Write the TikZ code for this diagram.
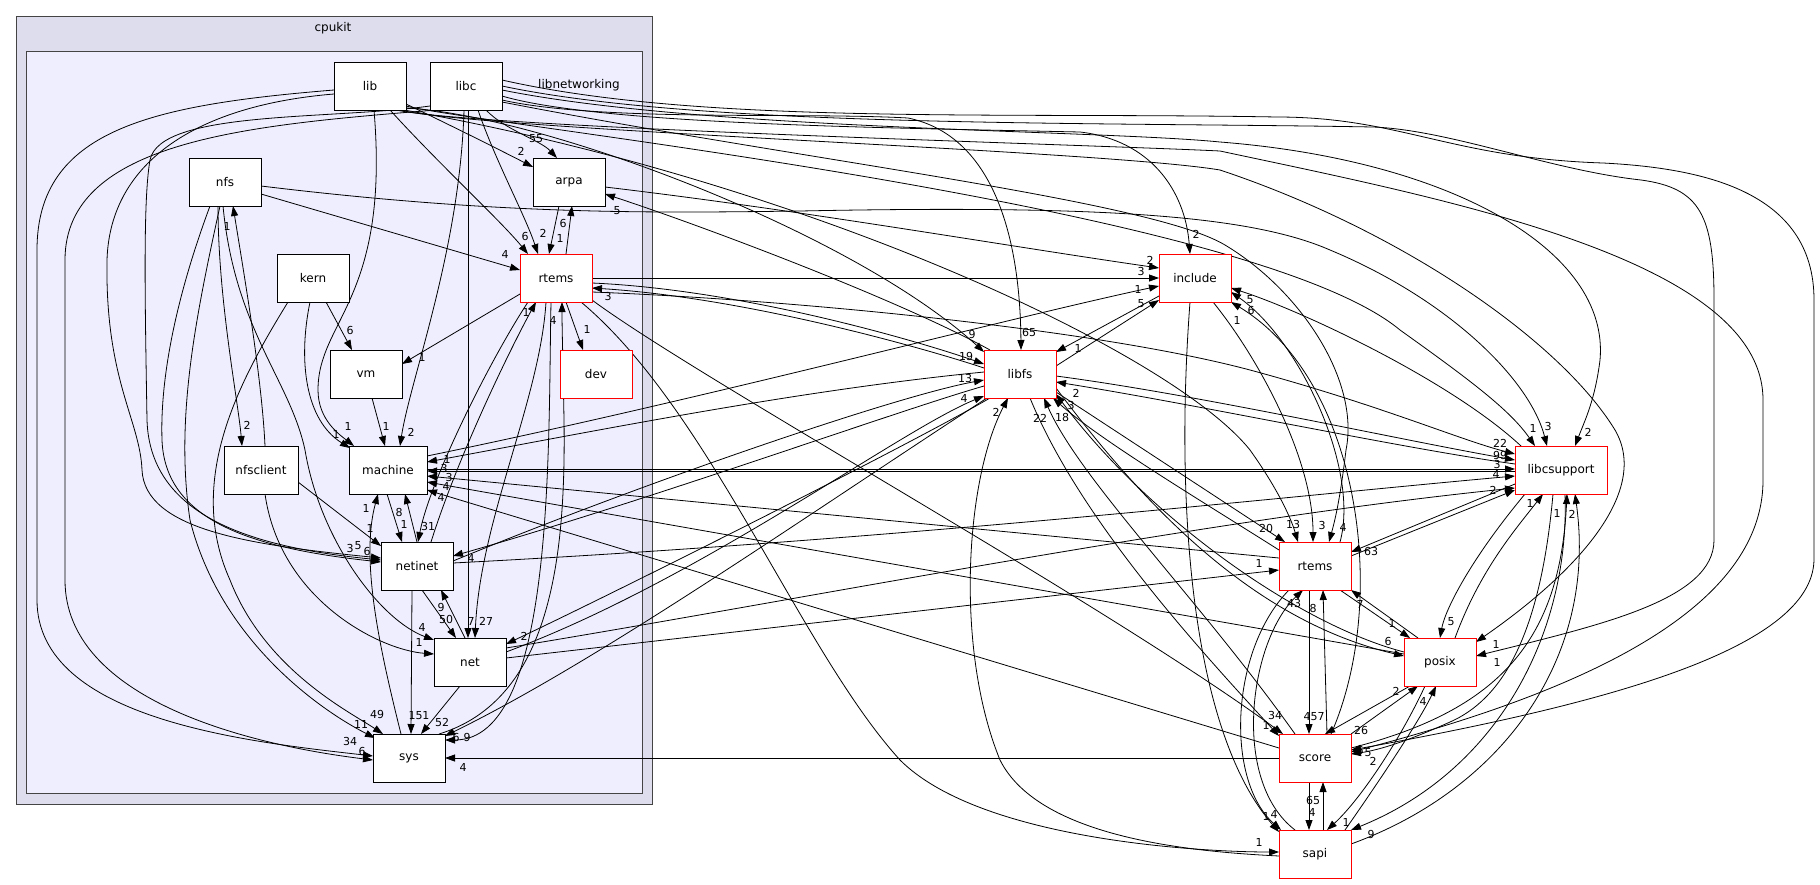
\documentclass[tikz,border=0pt]{standalone}
\usepackage{fontspec}
\setmainfont{DejaVu Sans}
\usetikzlibrary{arrows.meta}
\pgfdeclarelayer{clu}
\pgfdeclarelayer{edg}
\pgfsetlayers{clu,edg,main}
\definecolor{cpk}{HTML}{DDDDEE}
\definecolor{lnw}{HTML}{EEEEFF}
\definecolor{bord}{HTML}{444444}
\begin{document}
\begin{tikzpicture}[x=1pt,y=-1pt,
 box/.style={draw=black,fill=white,minimum width=72pt,minimum height=48pt,inner sep=0pt,line width=0.9pt,font=\fontsize{12}{14}\selectfont},
 rbox/.style={box,draw=red},
 e/.style={-{Triangle[length=10pt,width=7pt]},line width=0.8pt},
 lab/.style={inner sep=0pt,font=\fontsize{11}{12}\selectfont},
 ctitle/.style={inner sep=0pt,font=\fontsize{12}{14}\selectfont}]
\useasboundingbox (0,0) rectangle (1820,884);
\begin{pgfonlayer}{clu}
\draw[draw=bord,fill=cpk,line width=0.9pt] (16,16) rectangle (652,804);
\draw[draw=bord,fill=lnw,line width=0.9pt] (26.5,51.7) rectangle (642.7,793);
\end{pgfonlayer}
\node[ctitle] (tcpukit) at (333,28) {cpukit};
\node[ctitle] (tlnw) at (579,85) {libnetworking};
% inner nodes
\node[box] (lib) at (370,86) {lib};
\node[box] (libc) at (466,86) {libc};
\node[box] (nfs) at (225,182) {nfs};
\node[box] (arpa) at (569,182) {arpa};
\node[box] (kern) at (313,278) {kern};
\node[rbox] (rtA) at (556,278) {rtems};
\node[box] (vm) at (366,374) {vm};
\node[rbox] (dev) at (596,374) {dev};
\node[box,minimum width=74pt] (nfsclient) at (261,470) {nfsclient};
\node[box,minimum width=78pt] (machine) at (388,470) {machine};
\node[box] (netinet) at (417,566) {netinet};
\node[box] (net) at (470,662) {net};
\node[box] (sys) at (409,758) {sys};
% outer nodes
\node[rbox] (include) at (1195,278) {include};
\node[rbox] (libfs) at (1020,374) {libfs};
\node[rbox,minimum width=92pt] (libcsupport) at (1561,470) {libcsupport};
\node[rbox] (rtB) at (1315,566) {rtems};
\node[rbox] (posix) at (1440,662) {posix};
\node[rbox] (score) at (1315,758) {score};
\node[rbox] (sapi) at (1315,854) {sapi};

\begin{pgfonlayer}{edg}
\draw[e] ([shift={(36,18)}]lib.center) .. controls (450,125) and (500,150) .. ([shift={(-36,-15)}]arpa.center) node[lab] (q1) at (521,151) {2};
\draw[e] ([shift={(20,24)}]libc.center) .. controls (505,130) and (540,140) .. ([shift={(-12,-24)}]arpa.center) node[lab] (q2) at (536,139) {55};
\draw[e] ([shift={(10,-24)}]rtA.center) -- ([shift={(3,24)}]arpa.center) node[lab] (q3) at (563,223) {6};
\draw[e] ([shift={(-10,24)}]arpa.center) -- ([shift={(-7,-24)}]rtA.center) node[lab] (q4) at (560,238) {1};
\draw[e] ([shift={(20,24)}]lib.center) .. controls (440,165) and (500,220) .. ([shift={(-28,-24)}]rtA.center) node[lab] (q5) at (525,236) {6};
\draw[e] ([shift={(12,24)}]libc.center) .. controls (495,160) and (525,215) .. ([shift={(-18,-24)}]rtA.center) node[lab] (q6) at (543,233) {2};
\draw[e] ([shift={(36,12)}]nfs.center) -- ([shift={(-36,-8)}]rtA.center) node[lab] (q7) at (505,254) {4};
\draw[e] ([shift={(-30,-24)}]libfs.center) .. controls (900,300) and (700,225) .. ([shift={(36,12)}]arpa.center) node[lab] (q8) at (617,211) {5};
\draw[e] ([shift={(36,5)}]arpa.center) .. controls (800,210) and (1000,245) .. ([shift={(-36,-10)}]include.center) node[lab] (q9) at (1150,260) {2};
\draw[e] ([shift={(36,4)}]nfs.center) .. controls (500,215) and (650,213) .. (800,211) .. controls (1100,205) and (1250,215) .. (1330,250) .. controls (1450,300) and (1530,380) .. ([shift={(-14,-24)}]libcsupport.center) node[lab] (q10) at (1548,426) {3};
\draw[e] ([shift={(36,0)}]rtA.center) -- ([shift={(-36,0)}]include.center) node[lab] (q11) at (1141,271) {3};
\draw[e] ([shift={(36,5)}]rtA.center) .. controls (750,290) and (930,345) .. ([shift={(-36,-10)}]libfs.center) node[lab] (q12) at (966,356) {19};
\draw[e] ([shift={(-36,-6)}]libfs.center) .. controls (930,350) and (750,298) .. ([shift={(36,10)}]rtA.center) node[lab] (q13) at (608,296) {3};
\draw[e] ([shift={(36,14)}]rtA.center) .. controls (800,300) and (1100,330) .. (1250,370) .. controls (1380,405) and (1460,440) .. ([shift={(-46,-16)}]libcsupport.center) node[lab] (q14) at (1500,443) {22};
\draw[e] ([shift={(34,24)}]lib.center) .. controls (800,180) and (1170,350) .. (1250,450) .. controls (1275,485) and (1290,515) .. ([shift={(-17,-24)}]rtB.center) node[lab] (q15) at (1293,524) {13};
\draw[e] ([shift={(36,22)}]rtA.center) .. controls (700,380) and (1100,600) .. ([shift={(-32,-24)}]score.center) node[lab] (q16) at (1275,715) {34};
\draw[e] ([shift={(25,24)}]rtA.center) .. controls (710,410) and (800,650) .. (900,760) .. controls (980,840) and (1200,852) .. ([shift={(-36,-2)}]sapi.center) node[lab] (q17) at (1259,842) {1};
\draw[e] ([shift={(-36,16)}]rtA.center) -- ([shift={(36,-10)}]vm.center) node[lab] (q18) at (422,357) {1};
\draw[e] ([shift={(13,24)}]kern.center) -- ([shift={(-14,-24)}]vm.center) node[lab] (q19) at (350,330) {6};
\draw[e] ([shift={(10,24)}]rtA.center) -- ([shift={(-13,-24)}]dev.center) node[lab] (q20) at (587,329) {1};
\draw[e] ([shift={(-7,24)}]nfs.center) .. controls (218,300) and (238,400) .. ([shift={(-19,-24)}]nfsclient.center) node[lab] (q21) at (247,425) {2};
\draw[e] ([shift={(4,-24)}]nfsclient.center) .. controls (262,380) and (245,280) .. ([shift={(8,24)}]nfs.center) node[lab] (q22) at (227,226) {1};
\draw[e] ([shift={(-3,24)}]kern.center) .. controls (298,360) and (305,420) .. ([shift={(-38,-22)}]machine.center) node[lab] (q23) at (336,434) {1};
\draw[e] ([shift={(4,24)}]lib.center) .. controls (390,300) and (318,320) .. (318,390) .. controls (318,420) and (340,435) .. ([shift={(-34,-24)}]machine.center) node[lab] (q24) at (348,426) {1};
\draw[e] ([shift={(6,24)}]vm.center) -- ([shift={(-3,-24)}]machine.center) node[lab] (q25) at (386,426) {1};
\draw[e] ([shift={(-2,24)}]libc.center) .. controls (460,250) and (410,380) .. ([shift={(12,-24)}]machine.center) node[lab] (q26) at (411,432) {2};
\draw[e] ([shift={(-1,24)}]machine.center) -- ([shift={(-15,-24)}]netinet.center) node[lab] (q27) at (404,524) {1};
\draw[e] ([shift={(0,-24)}]netinet.center) -- ([shift={(17,24)}]machine.center) node[lab] (q28) at (399,512) {8};
\draw[e] ([shift={(-28,24)}]rtA.center) .. controls (490,360) and (430,480) .. ([shift={(1,-24)}]netinet.center) node[lab] (q29) at (428,526) {31};
\draw[e] ([shift={(14,-24)}]netinet.center) .. controls (460,450) and (515,340) .. ([shift={(-20,24)}]rtA.center) node[lab] (q30) at (526,312) {1};
\draw[e] ([shift={(-8,-24)}]sys.center) .. controls (380,650) and (360,560) .. ([shift={(-10,24)}]machine.center) node[lab] (q31) at (366,508) {1};
\draw[e] ([shift={(37,12)}]nfsclient.center) -- ([shift={(-36,-20)}]netinet.center) node[lab] (q32) at (370,528) {1};
\draw[e] ([shift={(-36,8)}]lib.center) .. controls (200,105) and (110,160) .. (107,260) .. controls (105,380) and (140,420) .. (142,470) .. controls (145,530) and (250,545) .. ([shift={(-36,-8)}]netinet.center) node[lab] (q33) at (350,548) {3};
\draw[e] ([shift={(-36,20)}]libc.center) .. controls (330,120) and (160,110) .. (150,160) .. controls (143,200) and (145,300) .. (147,420) .. controls (150,520) and (260,548) .. ([shift={(-36,-6)}]netinet.center) node[lab] (q34) at (358,546) {5};
\draw[e] ([shift={(-15,24)}]nfs.center) .. controls (175,300) and (160,380) .. (162,440) .. controls (165,520) and (250,548) .. ([shift={(-36,-4)}]netinet.center) node[lab] (q35) at (367,551) {6};
\draw[e] ([shift={(-36,4)}]lib.center) .. controls (150,105) and (37,130) .. (37,250) -- (37,600) .. controls (37,720) and (250,742) .. ([shift={(-36,-2)}]sys.center) node[lab] (q36) at (350,741) {34};
\draw[e] ([shift={(-30,24)}]libc.center) .. controls (250,125) and (65,140) .. (65,260) -- (65,580) .. controls (65,700) and (250,745) .. ([shift={(-36,2)}]sys.center) node[lab] (q37) at (362,751) {6};
\draw[e] ([shift={(-5,24)}]nfs.center) .. controls (195,320) and (175,420) .. (190,520) .. controls (220,640) and (320,710) .. ([shift={(-34,-20)}]sys.center) node[lab] (q38) at (361,724) {11};
\draw[e] ([shift={(-25,24)}]kern.center) .. controls (240,380) and (185,480) .. (230,580) .. controls (265,670) and (350,712) .. ([shift={(-26,-24)}]sys.center) node[lab] (q39) at (377,714) {49};
\draw[e] ([shift={(-2,24)}]nfs.center) .. controls (235,330) and (290,380) .. (305,450) .. controls (320,540) and (380,620) .. ([shift={(-36,-22)}]net.center) node[lab] (q40) at (422,627) {4};
\draw[e] ([shift={(4,24)}]nfsclient.center) .. controls (280,600) and (380,650) .. ([shift={(-36,-8)}]net.center) node[lab] (q41) at (419,642) {1};
\draw[e] ([shift={(5,24)}]netinet.center) -- ([shift={(-14,-24)}]net.center) node[lab] (q42) at (446,619) {50};
\draw[e] ([shift={(-5,-24)}]net.center) -- ([shift={(24,24)}]netinet.center) node[lab] (q43) at (441,607) {9};
\draw[e] ([shift={(2,24)}]libc.center) -- ([shift={(-2,-24)}]net.center) node[lab] (q44) at (471,621) {7};
\draw[e] ([shift={(-10,24)}]rtA.center) .. controls (540,400) and (480,520) .. ([shift={(5,-24)}]net.center) node[lab] (q45) at (486,621) {27};
\draw[e] ([shift={(-30,24)}]libfs.center) .. controls (900,450) and (600,600) .. ([shift={(36,-18)}]net.center) node[lab] (q46) at (524,636) {2};
\draw[e] ([shift={(36,-10)}]net.center) .. controls (700,580) and (900,430) .. ([shift={(-36,22)}]libfs.center) node[lab] (q47) at (964,398) {4};
\draw[e] ([shift={(36,-5)}]netinet.center) .. controls (650,480) and (900,395) .. ([shift={(-36,6)}]libfs.center) node[lab] (q48) at (965,378) {13};
\draw[e] ([shift={(-36,12)}]libfs.center) .. controls (900,410) and (650,500) .. ([shift={(36,-10)}]netinet.center) node[lab] (q49) at (471,558) {4};
\draw[e] ([shift={(-10,24)}]net.center) -- ([shift={(12,-24)}]sys.center) node[lab] (q50) at (442,722) {52};
\draw[e] ([shift={(-5,24)}]netinet.center) -- ([shift={(2,-24)}]sys.center) node[lab] (q51) at (419,716) {151};
\draw[e] ([shift={(-5,24)}]rtA.center) .. controls (548,450) and (555,740) .. ([shift={(36,-18)}]sys.center) node[lab] (q52) at (456,737) {6};
\draw[e] ([shift={(-33,24)}]libfs.center) .. controls (800,520) and (600,660) .. ([shift={(36,-22)}]sys.center) node[lab] (q53) at (467,737) {9};
\draw[e] ([shift={(30,-24)}]sys.center) .. controls (550,700) and (566,560) .. (564,420) .. controls (563,360) and (562,330) .. ([shift={(6,24)}]rtA.center) node[lab] (q54) at (553,320) {4};
\draw[e] ([shift={(-36,0)}]score.center) -- ([shift={(36,0)}]sys.center) node[lab] (q55) at (463,767) {4};
\draw[e] ([shift={(-36,-2)}]libfs.center) .. controls (800,390) and (600,430) .. ([shift={(39,-8)}]machine.center) node[lab] (q56) at (447,459) {1};
\draw[e] ([shift={(39,-14)}]machine.center) .. controls (700,400) and (1000,320) .. ([shift={(-36,8)}]include.center) node[lab] (q57) at (1138,289) {1};
\draw[e] ([shift={(39,-1)}]machine.center) -- ([shift={(-46,-1)}]libcsupport.center) node[lab] (q58) at (1497,464) {3};
\draw[e] ([shift={(-46,1)}]libcsupport.center) -- ([shift={(39,1)}]machine.center) node[lab] (q59) at (444,468) {3};
\draw[e] ([shift={(-36,-8)}]rtB.center) -- ([shift={(39,6)}]machine.center) node[lab] (q60) at (449,477) {3};
\draw[e] ([shift={(-36,-8)}]posix.center) -- ([shift={(39,12)}]machine.center) node[lab] (q61) at (446,486) {4};
\draw[e] ([shift={(-36,-10)}]score.center) -- ([shift={(39,20)}]machine.center) node[lab] (q62) at (441,497) {4};
\draw[e] ([shift={(36,-3)}]netinet.center) .. controls (900,540) and (1300,495) .. ([shift={(-46,6)}]libcsupport.center) node[lab] (q63) at (1496,474) {4};
\draw[e] ([shift={(36,-14)}]net.center) .. controls (800,600) and (1200,520) .. ([shift={(-46,18)}]libcsupport.center);
\draw[e] ([shift={(36,-4)}]net.center) -- ([shift={(-36,4)}]rtB.center) node[lab] (q65) at (1259,563) {1};
\draw[e] ([shift={(36,18)}]libfs.center) -- ([shift={(-30,-24)}]rtB.center) node[lab] (q66) at (1266,528) {20};
\draw[e] ([shift={(18,24)}]include.center) .. controls (1260,360) and (1313,460) .. ([shift={(-2,-24)}]rtB.center) node[lab] (q67) at (1322,525) {3};
\draw[e] ([shift={(25,-24)}]rtB.center) .. controls (1360,470) and (1300,340) .. ([shift={(36,14)}]include.center) node[lab] (q68) at (1250,300) {5};
\draw[e] ([shift={(-40,-24)}]libcsupport.center) .. controls (1450,380) and (1300,310) .. ([shift={(36,10)}]include.center) node[lab] (q69) at (1251,310) {6};
\draw[e] ([shift={(16,-24)}]score.center) .. controls (1390,600) and (1360,380) .. ([shift={(36,24)}]include.center) node[lab] (q70) at (1237,320) {1};
\draw[e] ([shift={(-36,18)}]include.center) -- ([shift={(36,-22)}]libfs.center) node[lab] (q71) at (1078,348) {1};
\draw[e] ([shift={(36,-8)}]libfs.center) -- ([shift={(-36,22)}]include.center) node[lab] (q72) at (1141,304) {5};
\draw[e] ([shift={(36,10)}]libc.center) .. controls (600,125) and (900,128) .. (1080,132) .. controls (1150,140) and (1185,190) .. ([shift={(-5,-24)}]include.center) node[lab] (q73) at (1196,234) {2};
\draw[e] ([shift={(36,14)}]libc.center) .. controls (600,122) and (800,112) .. (908,118) .. controls (990,135) and (1020,230) .. ([shift={(1,-24)}]libfs.center) node[lab] (q74) at (1029,332) {65};
\draw[e] ([shift={(36,22)}]lib.center) .. controls (540,115) and (850,230) .. ([shift={(-36,-22)}]libfs.center) node[lab] (q75) at (972,334) {9};
\draw[e] ([shift={(36,2)}]libfs.center) .. controls (1200,395) and (1400,440) .. ([shift={(-46,-10)}]libcsupport.center) node[lab] (q76) at (1500,455) {99};
\draw[e] ([shift={(-46,-6)}]libcsupport.center) .. controls (1400,448) and (1200,405) .. ([shift={(36,8)}]libfs.center) node[lab] (q77) at (1076,393) {2};
\draw[e] ([shift={(-36,-16)}]rtB.center) .. controls (1200,500) and (1100,440) .. ([shift={(33,24)}]libfs.center) node[lab] (q78) at (1062,417) {18};
\draw[e] ([shift={(-36,-10)}]posix.center) .. controls (1300,625) and (1150,520) .. ([shift={(36,20)}]libfs.center) node[lab] (q79) at (1071,405) {3};
\draw[e] ([shift={(-20,-24)}]score.center) .. controls (1200,600) and (1080,480) .. ([shift={(24,24)}]libfs.center) node[lab] (q80) at (1040,418) {22};
\draw[e] ([shift={(10,24)}]libfs.center) .. controls (1080,520) and (1200,650) .. ([shift={(-36,-22)}]score.center) node[lab] (q81) at (1266,725) {1};
\draw[e] ([shift={(-36,2)}]sapi.center) .. controls (1200,852) and (1040,840) .. (1000,760) .. controls (955,650) and (965,480) .. ([shift={(-12,24)}]libfs.center) node[lab] (q82) at (996,412) {2};
\draw[e] ([shift={(36,14)}]libfs.center) .. controls (1140,500) and (1250,620) .. ([shift={(-36,-6)}]posix.center) node[lab] (q83) at (1388,641) {6};
\draw[e] ([shift={(25,24)}]rtB.center) -- ([shift={(-30,-24)}]posix.center) node[lab] (q84) at (1392,623) {1};
\draw[e] ([shift={(-22,-24)}]posix.center) -- ([shift={(36,24)}]rtB.center) node[lab] (q85) at (1360,604) {7};
\draw[e] ([shift={(-46,14)}]libcsupport.center) -- ([shift={(36,-14)}]rtB.center) node[lab] (q86) at (1371,551) {63};
\draw[e] ([shift={(36,-10)}]rtB.center) -- ([shift={(-46,20)}]libcsupport.center) node[lab] (q87) at (1493,490) {2};
\draw[e] ([shift={(-6,24)}]rtB.center) -- ([shift={(-6,-24)}]score.center) node[lab] (q88) at (1314,717) {457};
\draw[e] ([shift={(12,-24)}]score.center) -- ([shift={(8,24)}]rtB.center) node[lab] (q89) at (1313,608) {8};
\draw[e] ([shift={(-20,-24)}]sapi.center) .. controls (1230,780) and (1250,640) .. ([shift={(-12,24)}]rtB.center) node[lab] (q90) at (1294,603) {43};
\draw[e] ([shift={(-26,24)}]rtB.center) .. controls (1230,650) and (1225,780) .. ([shift={(-34,-24)}]sapi.center) node[lab] (q91) at (1266,816) {1};
\draw[e] ([shift={(-5,24)}]include.center) .. controls (1175,500) and (1190,730) .. ([shift={(-36,-22)}]sapi.center) node[lab] (q92) at (1274,814) {4};
\draw[e] ([shift={(-6,24)}]score.center) -- ([shift={(-6,-24)}]sapi.center) node[lab] (q93) at (1312,812) {4};
\draw[e] ([shift={(8,-24)}]sapi.center) -- ([shift={(8,24)}]score.center) node[lab] (q94) at (1313,800) {65};
\draw[e] ([shift={(-30,24)}]posix.center) -- ([shift={(10,-24)}]score.center) node[lab] (q95) at (1361,730) {26};
\draw[e] ([shift={(36,-24)}]score.center) -- ([shift={(-22,24)}]posix.center) node[lab] (q96) at (1396,691) {2};
\draw[e] ([shift={(-15,24)}]posix.center) .. controls (1400,740) and (1360,800) .. ([shift={(12,-24)}]sapi.center) node[lab] (q97) at (1346,822) {1};
\draw[e] ([shift={(30,-24)}]sapi.center) .. controls (1380,780) and (1420,720) .. ([shift={(-4,24)}]posix.center) node[lab] (q98) at (1423,701) {4};
\draw[e] ([shift={(-36,24)}]libcsupport.center) .. controls (1470,560) and (1445,610) .. ([shift={(0,-24)}]posix.center) node[lab] (q99) at (1451,622) {5};
\draw[e] ([shift={(15,-24)}]posix.center) .. controls (1480,570) and (1515,530) .. ([shift={(-18,24)}]libcsupport.center) node[lab] (q100) at (1530,503) {1};
\draw[e] ([shift={(-8,24)}]libcsupport.center) .. controls (1540,640) and (1500,700) .. (1450,722) .. controls (1410,740) and (1380,750) .. ([shift={(36,-4)}]score.center) node[lab] (q101) at (1373,761) {2};
\draw[e] ([shift={(36,-10)}]score.center) .. controls (1500,710) and (1560,640) .. ([shift={(6,24)}]libcsupport.center) node[lab] (q102) at (1557,513) {1};
\draw[e] ([shift={(36,-10)}]sapi.center) .. controls (1500,790) and (1598,660) .. ([shift={(14,24)}]libcsupport.center) node[lab] (q103) at (1572,514) {2};
\draw[e] ([shift={(4,24)}]libcsupport.center) .. controls (1570,630) and (1500,770) .. ([shift={(36,-24)}]sapi.center) node[lab] (q104) at (1371,834) {9};
\draw[e] ([shift={(36,-6)}]libc.center) .. controls (700,125) and (1000,112) .. (1277,117) .. controls (1400,117) and (1450,158) .. (1603,163) .. controls (1700,168) and (1814,190) .. (1814,300) -- (1814,560) .. controls (1812,650) and (1600,705) .. ([shift={(36,-8)}]score.center) node[lab] (q105) at (1360,750) {6};
\draw[e] ([shift={(36,0)}]libc.center) .. controls (700,128) and (1100,122) .. (1373,127) .. controls (1450,130) and (1550,170) .. (1641,180) .. controls (1700,188) and (1714,215) .. (1714,300) -- (1714,540) .. controls (1714,600) and (1600,625) .. ([shift={(36,-6)}]posix.center) node[lab] (q106) at (1497,662) {1};
\draw[e] ([shift={(30,24)}]lib.center) .. controls (480,130) and (1100,150) .. (1220,170) .. controls (1400,230) and (1560,340) .. (1615,430) .. controls (1650,490) and (1580,570) .. ([shift={(36,-20)}]posix.center) node[lab] (q107) at (1496,644) {1};
\draw[e] ([shift={(26,24)}]lib.center) .. controls (480,128) and (1100,145) .. (1220,151) .. controls (1450,200) and (1763,260) .. (1763,400) -- (1763,480) .. controls (1763,620) and (1550,700) .. ([shift={(36,-6)}]score.center) node[lab] (q108) at (1368,753) {5};
\draw[e] ([shift={(36,4)}]libc.center) .. controls (700,130) and (1100,130) .. (1220,142) .. controls (1450,160) and (1610,250) .. (1600,360) .. controls (1595,400) and (1585,420) .. ([shift={(14,-24)}]libcsupport.center) node[lab] (q109) at (1588,432) {2};
\draw[e] ([shift={(36,20)}]lib.center) .. controls (480,125) and (1250,205) .. (1400,330) .. controls (1470,380) and (1510,410) .. ([shift={(-26,-24)}]libcsupport.center) node[lab] (q110) at (1533,428) {1};
\draw[e] ([shift={(36,16)}]libc.center) .. controls (800,160) and (1150,200) .. (1225,245) .. controls (1300,290) and (1360,380) .. (1346,450) .. controls (1340,500) and (1335,520) .. ([shift={(14,-24)}]rtB.center) node[lab] (q111) at (1343,527) {4};
\end{pgfonlayer}
\end{tikzpicture}
\end{document}
